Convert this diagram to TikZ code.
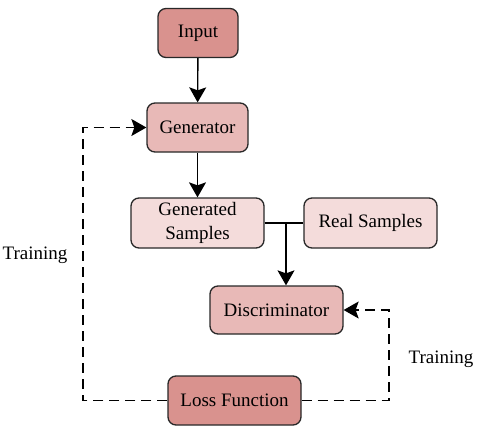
\documentclass[tikz,border=0pt]{standalone}
\usepackage{fontspec}
\setmainfont{Liberation Serif}
\usetikzlibrary{arrows.meta}
\definecolor{cdark}{RGB}{217,146,142}
\definecolor{cmid}{RGB}{232,185,183}
\definecolor{clight}{RGB}{244,220,219}
\definecolor{cline}{RGB}{40,40,40}
\begin{document}
\begin{tikzpicture}[x=1pt,y=-1pt,
  box/.style={draw=cline,line width=1.3pt,rounded corners=8pt,font=\fontsize{19}{24}\selectfont,align=center,inner sep=0pt},
  conn/.style={line width=1.4pt,draw=black},
  tip/.style={-{Stealth[length=15pt,width=17pt,inset=3pt]}},
  dashline/.style={dashed,dash pattern=on 10pt off 6pt,line width=1.2pt}]
\useasboundingbox (0,0) rectangle (480,431);
\node[box,fill=cdark,minimum width=80pt,minimum height=49pt] (input) at (198,33) {Input};
\node[box,fill=cmid,minimum width=101pt,minimum height=49pt] (gen) at (197.5,127.5) {Generator};
\node[box,fill=clight,minimum width=133pt,minimum height=50pt] (gs) at (197.5,223) {Generated\\Samples};
\node[box,fill=clight,minimum width=133pt,minimum height=50pt] (rs) at (370.5,223) {Real Samples};
\node[box,fill=cmid,minimum width=133pt,minimum height=48pt] (disc) at (276.5,310) {Discriminator};
\node[box,fill=cdark,minimum width=133pt,minimum height=49pt] (loss) at (234.5,400.5) {Loss Function};
\node[font=\fontsize{19}{24}\selectfont] (tl) at (35,255) {Training};
\node[font=\fontsize{19}{24}\selectfont] (tr) at (441,359) {Training};
\coordinate (j) at (286,223);
\draw[conn,tip] (input) -- (gen);
\draw[conn,tip] (gen) -- (gs);
\draw[conn] (gs.east) -- (rs.west);
\draw[conn,tip] (j) -- (j |- disc.north);
\draw[conn,tip,dashline] (loss.west) -- (83,400.5) -- (83,127.5) -- (gen.west);
\draw[conn,tip,dashline] (loss.east) -- (389,400.5) -- (389,310) -- (disc.east);
\end{tikzpicture}
\end{document}
